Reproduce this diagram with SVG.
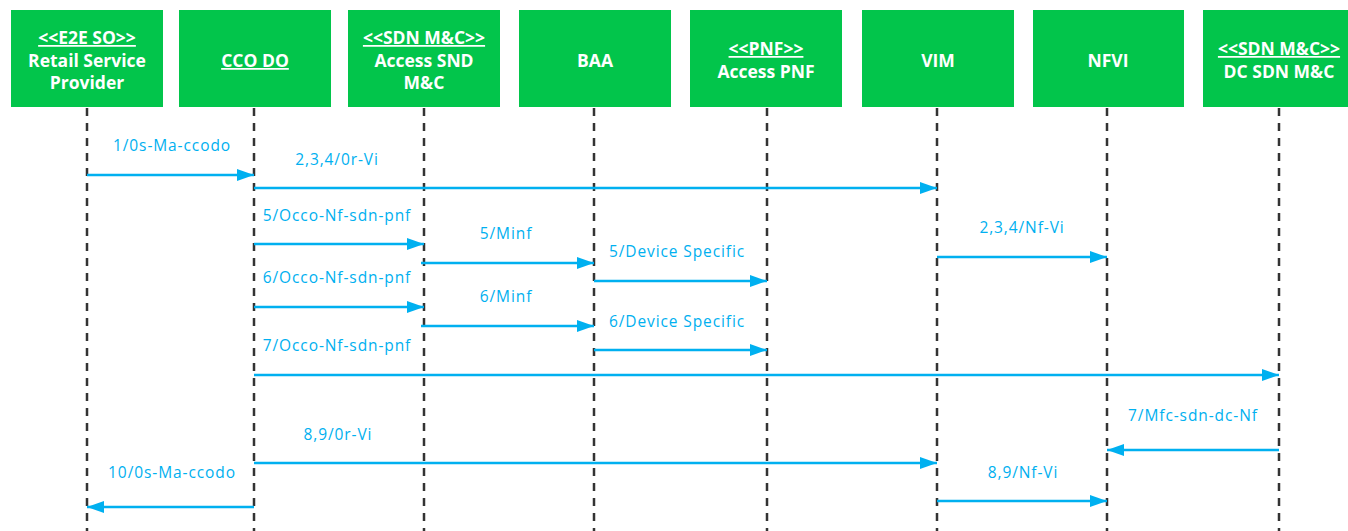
<svg xmlns="http://www.w3.org/2000/svg" width="1348" height="531" viewBox="0 0 1348 531">
  <style>
    .box { fill: #02c54b; }
    .title { font-family: "Open Sans", "Liberation Sans", sans-serif; font-weight: bold; font-size: 17.5px; fill: #ffffff; text-anchor: middle; }
    .stereo { text-decoration: underline; }
    .life { stroke: #333333; stroke-width: 2.5; stroke-dasharray: 8 7; fill: none; }
    .msg { stroke: #00b0f0; stroke-width: 2.5; fill: none; marker-end: url(#head); }
    .lbl { font-family: "Open Sans", "Liberation Sans", sans-serif; font-size: 15.5px; font-weight: 500; letter-spacing: 0.9px; fill: #00b0f0; text-anchor: middle; }
  </style>
  <defs>
    <marker id="head" markerUnits="userSpaceOnUse" markerWidth="18" markerHeight="12" refX="17" refY="6" orient="auto">
      <path d="M0,0 L17,6 L0,12 Z" fill="#00b0f0"/>
    </marker>
  </defs>
  <rect width="1348" height="531" fill="#ffffff"/>

  <!-- lifelines -->
  <g id="lifelines">
    <line class="life" x1="87" y1="108" x2="87" y2="531"/>
    <line class="life" x1="254" y1="108" x2="254" y2="531"/>
    <line class="life" x1="424" y1="108" x2="424" y2="531"/>
    <line class="life" x1="594" y1="108" x2="594" y2="531"/>
    <line class="life" x1="767" y1="108" x2="767" y2="531"/>
    <line class="life" x1="937" y1="108" x2="937" y2="531"/>
    <line class="life" x1="1107" y1="108" x2="1107" y2="531"/>
    <line class="life" x1="1279" y1="108" x2="1279" y2="531"/>
  </g>

  <!-- participants -->
  <g id="retail-sp">
    <rect class="box" x="11" y="10" width="152" height="97"/>
    <text class="title stereo" x="87" y="44">&lt;&lt;E2E SO&gt;&gt;</text>
    <text class="title" x="87" y="67">Retail Service</text>
    <text class="title" x="87" y="89">Provider</text>
  </g>
  <g id="cco-do">
    <rect class="box" x="179" y="10" width="152" height="97"/>
    <text class="title stereo" x="255" y="67">CCO DO</text>
  </g>
  <g id="access-sdn">
    <rect class="box" x="348" y="10" width="152" height="97"/>
    <text class="title stereo" x="424" y="44">&lt;&lt;SDN M&amp;C&gt;&gt;</text>
    <text class="title" x="424" y="67">Access SND</text>
    <text class="title" x="424" y="89">M&amp;C</text>
  </g>
  <g id="baa">
    <rect class="box" x="519" y="10" width="152" height="97"/>
    <text class="title" x="595" y="67">BAA</text>
  </g>
  <g id="access-pnf">
    <rect class="box" x="690" y="10" width="152" height="97"/>
    <text class="title stereo" x="766" y="55">&lt;&lt;PNF&gt;&gt;</text>
    <text class="title" x="766" y="78">Access PNF</text>
  </g>
  <g id="vim">
    <rect class="box" x="862" y="10" width="152" height="97"/>
    <text class="title" x="938" y="67">VIM</text>
  </g>
  <g id="nfvi">
    <rect class="box" x="1033" y="10" width="151" height="97"/>
    <text class="title" x="1108" y="67">NFVI</text>
  </g>
  <g id="dc-sdn">
    <rect class="box" x="1203" y="10" width="152" height="97"/>
    <text class="title stereo" x="1279" y="55">&lt;&lt;SDN M&amp;C&gt;&gt;</text>
    <text class="title" x="1279" y="78">DC SDN M&amp;C</text>
  </g>

  <!-- messages -->
  <g id="connectors">
    <line class="msg" x1="87" y1="175" x2="254" y2="175"/>
    <line class="msg" x1="254" y1="188" x2="937" y2="188"/>
    <line class="msg" x1="254" y1="244" x2="424" y2="244"/>
    <line class="msg" x1="421" y1="263" x2="594" y2="263"/>
    <line class="msg" x1="594" y1="281" x2="767" y2="281"/>
    <line class="msg" x1="937" y1="257" x2="1107" y2="257"/>
    <line class="msg" x1="254" y1="307" x2="424" y2="307"/>
    <line class="msg" x1="421" y1="326" x2="594" y2="326"/>
    <line class="msg" x1="594" y1="350" x2="767" y2="350"/>
    <line class="msg" x1="254" y1="375" x2="1279" y2="375"/>
    <line class="msg" x1="1279" y1="450" x2="1107" y2="450"/>
    <line class="msg" x1="254" y1="463" x2="937" y2="463"/>
    <line class="msg" x1="254" y1="507" x2="87" y2="507"/>
    <line class="msg" x1="937" y1="501" x2="1107" y2="501"/>
  </g>

  <g id="labels">
    <text class="lbl" x="172" y="151">1/0s-Ma-ccodo</text>
    <text class="lbl" x="337" y="165">2,3,4/0r-Vi</text>
    <text class="lbl" x="337" y="221">5/Occo-Nf-sdn-pnf</text>
    <text class="lbl" x="506" y="239">5/Minf</text>
    <text class="lbl" x="677" y="257">5/Device Specific</text>
    <text class="lbl" x="1022" y="233">2,3,4/Nf-Vi</text>
    <text class="lbl" x="337" y="283">6/Occo-Nf-sdn-pnf</text>
    <text class="lbl" x="506" y="302">6/Minf</text>
    <text class="lbl" x="677" y="327">6/Device Specific</text>
    <text class="lbl" x="337" y="351">7/Occo-Nf-sdn-pnf</text>
    <text class="lbl" x="1193" y="421">7/Mfc-sdn-dc-Nf</text>
    <text class="lbl" x="338" y="440">8,9/0r-Vi</text>
    <text class="lbl" x="172" y="478">10/0s-Ma-ccodo</text>
    <text class="lbl" x="1023" y="478">8,9/Nf-Vi</text>
  </g>
</svg>
